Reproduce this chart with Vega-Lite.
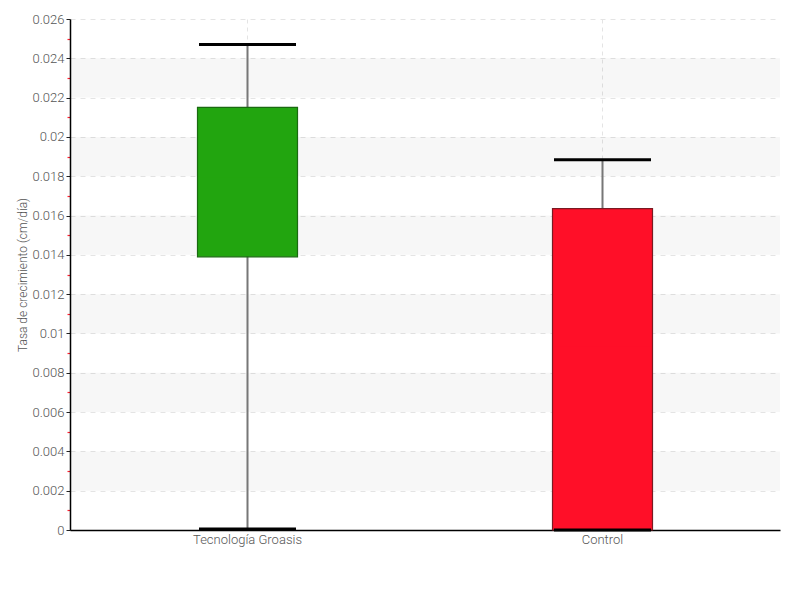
{
  "$schema": "https://vega.github.io/schema/vega-lite/v6.json",
  "autosize": "none",
  "width": 710,
  "height": 511,
  "padding": {"left": 70, "top": 19, "right": 20, "bottom": 70},
  "background": "white",
  "config": {
    "view": {"stroke": null},
    "font": "Roboto",
    "axis": {"labelFont": "Roboto", "titleFont": "Roboto", "labelFontWeight": 300, "titleFontWeight": 300}
  },
  "datasets": {
    "boxes": [
      {"grupo": "Tecnología Groasis", "min": 0.00005, "q1": 0.0139, "median": 0.0179, "q3": 0.0215, "max": 0.0247},
      {"grupo": "Control", "min": 0.0, "q1": 0.0, "median": 0.0093, "q3": 0.01635, "max": 0.01884}
    ],
    "bands": [
      {"lo": 0.022, "hi": 0.024},
      {"lo": 0.018, "hi": 0.020},
      {"lo": 0.014, "hi": 0.016},
      {"lo": 0.010, "hi": 0.012},
      {"lo": 0.006, "hi": 0.008},
      {"lo": 0.002, "hi": 0.004}
    ]
  },
  "resolve": {"axis": {"y": "independent"}},
  "layer": [
    {
      "data": {"name": "bands"},
      "mark": {"type": "rect", "color": "#000000", "opacity": 0.03},
      "encoding": {
        "y": {"field": "lo", "type": "quantitative", "scale": {"domain": [0, 0.026], "nice": false, "zero": true},
          "axis": {"orient": "left", "values": [0.001,0.003,0.005,0.007,0.009,0.011,0.013,0.015,0.017,0.019,0.021,0.023,0.025], "tickCount": 40, "labels": false, "domain": false, "grid": false, "tickColor": "#ff2030", "tickSize": 3, "tickWidth": 1.2, "tickOffset": 0, "title": null}},
        "y2": {"field": "hi"}
      }
    },
    {
      "data": {"name": "boxes"},
      "layer": [
        {
          "mark": {"type": "rule", "color": "#777777", "strokeWidth": 2},
          "encoding": {
            "x": {"field": "grupo", "type": "nominal", "sort": ["Tecnología Groasis", "Control"],
              "scale": {"paddingInner": 0, "paddingOuter": 0},
              "axis": {"title": null, "ticks": false, "labelAngle": 0, "labelFontSize": 13, "labelColor": "#555555", "labelPadding": 3, "domainColor": "#000000", "domainWidth": 1.5, "grid": true, "gridDash": [4, 4], "gridColor": "#e4e4e4", "gridWidth": 1}},
            "y": {"field": "min", "type": "quantitative", "scale": {"domain": [0, 0.026], "nice": false, "zero": true},
              "axis": {"orient": "left", "values": [0,0.002,0.004,0.006,0.008,0.01,0.012,0.014,0.016,0.018,0.02,0.022,0.024,0.026], "tickCount": 40, "format": "~g", "labelOverlap": false, "labelFlush": false, "labelFontSize": 13, "labelColor": "#555555", "labelPadding": 2, "tickColor": "#222222", "tickSize": 4, "domainColor": "#000000", "domainWidth": 1.5, "grid": true, "gridDash": [5, 5], "gridColor": "#e4e4e4", "gridWidth": 1, "title": "Tasa de crecimiento (cm/día)", "titleFontSize": 12, "titleColor": "#555555", "titleX": -41}},
            "y2": {"field": "max"}
          }
        },
        {
          "mark": {"type": "bar", "size": 100, "strokeWidth": 1.2},
          "encoding": {
            "x": {"field": "grupo", "type": "nominal", "sort": ["Tecnología Groasis", "Control"]},
            "y": {"field": "q1", "type": "quantitative"},
            "y2": {"field": "q3"},
            "color": {"field": "grupo", "type": "nominal", "scale": {"domain": ["Tecnología Groasis", "Control"], "range": ["#22a50f", "#ff0f28"]}, "legend": null},
            "stroke": {"field": "grupo", "type": "nominal", "scale": {"domain": ["Tecnología Groasis", "Control"], "range": ["#1a6a10", "#7a1a22"]}, "legend": null}
          }
        },
        {
          "mark": {"type": "tick", "size": 97, "thickness": 1.5, "opacity": 1, "orient": "horizontal"},
          "encoding": {
            "x": {"field": "grupo", "type": "nominal", "sort": ["Tecnología Groasis", "Control"]},
            "y": {"field": "median", "type": "quantitative"},
            "color": {"field": "grupo", "type": "nominal", "scale": {"domain": ["Tecnología Groasis", "Control"], "range": ["#0e4a08", "#9a0818"]}, "legend": null}
          }
        },
        {
          "mark": {"type": "tick", "size": 97, "thickness": 3, "opacity": 1, "color": "#000000", "orient": "horizontal"},
          "encoding": {
            "x": {"field": "grupo", "type": "nominal", "sort": ["Tecnología Groasis", "Control"]},
            "y": {"field": "max", "type": "quantitative"}
          }
        },
        {
          "mark": {"type": "tick", "size": 97, "thickness": 3, "opacity": 1, "color": "#000000", "orient": "horizontal"},
          "encoding": {
            "x": {"field": "grupo", "type": "nominal", "sort": ["Tecnología Groasis", "Control"]},
            "y": {"field": "min", "type": "quantitative"}
          }
        }
      ]
    }
  ]
}
